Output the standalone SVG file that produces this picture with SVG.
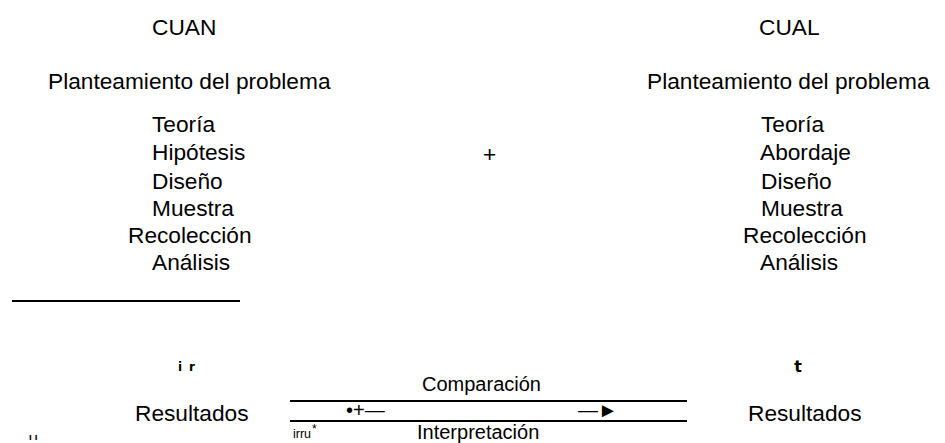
<svg xmlns="http://www.w3.org/2000/svg" width="945" height="443" viewBox="0 0 945 443">
<style>
text{font-family:"Liberation Sans",Arial,sans-serif;fill:#000}
.t{font-size:22.7px}
.m{font-size:20px}
.b{font-family:"DejaVu Sans","Liberation Sans",sans-serif;font-weight:bold}
.rule{stroke:#000;stroke-width:2;fill:none}
</style>
<rect width="945" height="443" fill="#fff"/>
<g id="cuan">
<text class="t" x="152" y="35">CUAN</text>
<text class="t" x="48" y="89">Planteamiento del problema</text>
<text class="t" x="152" y="132">Teoría</text>
<text class="t" x="152" y="160">Hipótesis</text>
<text class="t" x="152" y="189">Diseño</text>
<text class="t" x="152" y="216">Muestra</text>
<text class="t" x="128" y="243">Recolección</text>
<text class="t" x="152" y="270">Análisis</text>
</g>
<g id="plus">
<text class="t" x="489.5" y="162" text-anchor="middle">+</text>
</g>
<g id="cual">
<text class="t" x="759" y="35">CUAL</text>
<text class="t" x="647" y="89">Planteamiento del problema</text>
<text class="t" x="761" y="132">Teoría</text>
<text class="t" x="760" y="160">Abordaje</text>
<text class="t" x="761" y="189">Diseño</text>
<text class="t" x="761" y="216">Muestra</text>
<text class="t" x="743" y="243">Recolección</text>
<text class="t" x="760" y="270">Análisis</text>
</g>
<g id="connectors">
<line class="rule" x1="12" y1="301" x2="240" y2="301"/>
<line class="rule" x1="290" y1="401" x2="687" y2="401"/>
<line class="rule" x1="290" y1="421" x2="687" y2="421"/>
</g>
<g id="marks">
<text class="b" x="178" y="371" font-size="12" letter-spacing="7">ir</text>
<text class="b" x="798" y="372" font-size="16" text-anchor="middle">t</text>
<text class="b" x="29" y="440" font-size="8" letter-spacing="3">ıı</text>
<text x="293" y="438" font-size="12" textLength="18" lengthAdjust="spacingAndGlyphs">irru</text>
<text x="312" y="433" font-size="12">*</text>
</g>
<g id="resultados-cuan">
<text class="t" x="135" y="421">Resultados</text>
</g>
<g id="resultados-cual">
<text class="t" x="748" y="421">Resultados</text>
</g>
<g id="comparacion">
<text class="m" x="422" y="391">Comparación</text>
<text class="m" x="346" y="417">•+—</text>
<text class="m" x="578" y="417">—►</text>
<text class="m" x="417" y="439">Interpretación</text>
</g>
</svg>
